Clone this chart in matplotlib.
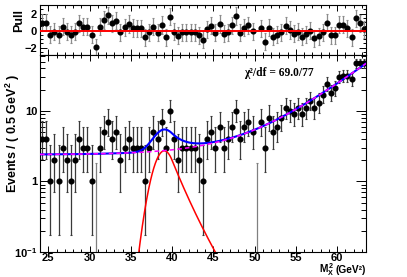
import math
import numpy as np
import matplotlib
matplotlib.use("Agg")
import matplotlib.pyplot as plt
from matplotlib.ticker import MultipleLocator, LogLocator, NullFormatter


####### Data #######

x_lo = 24.0
x_hi = 63.5
bin_width = 0.5

# events per 0.5 GeV^2 bin
counts = [4, 4, 1, 2, 1, 3, 2, 1, 2, 4, 3, 3, 1, 0, 3, 5, 7, 4, 5, 2,
          3, 4, 3, 3, 3, 1, 3, 5, 4, 7, 3, 10, 4, 2, 3, 3, 3, 3, 2,
          1, 4, 5, 3, 6, 3, 4, 6, 10, 4, 6, 7, 5, 0, 7, 3, 8, 5, 6,
          8, 11, 10, 9, 11, 9, 11, 14, 11, 13, 17, 24, 18, 21, 30, 31, 31, 28, 47, 47, 47]

# pull per bin (nan = outside the pull frame)
pulls = [0.93, 0.93, -0.47, -0.12, -0.47, 0.47, -0.12, -0.47, -0.12, 0.86,
         0.47, 0.47, -0.5, -1.93, 0.47, 1.24, 1.79, 0.86, 1.16, -0.19,
         0.39, 0.78, 0.31, 0.3, 0.28, -0.77, -0.19, 0.47, -0.27, 0.66,
         -0.77, 1.63, -0.12, -0.62, -0.19, -0.19, -0.19, -0.19, -0.54, -1.08,
         0.16, 0.55, -0.27, 0.78, -0.35, -0.19, 0.63, 1.71, -0.27, 0.35,
         0.63, -0.1, np.nan, 0.28, -1.28, 0.35, -0.7, -0.5, -0.19, 0.55,
         0.08, -0.35, -0.12, -0.7, -0.42, -0.03, -0.89, -0.66, -0.19, 0.93,
         -0.54, -0.54, 0.7, 0.7, 0.28, -0.77, 1.44, 0.86, 0.16]

# fit parameters (signal: crystal ball with right tail, background: const + exp)
sig_peak = 2.72
sig_mean = 39.06
sig_sigma = 1.2
sig_alpha = 0.8
sig_n = 10.0
bkg_const = 2.4
bkg_amp = 8.15
bkg_slope = 0.2
bkg_ref = 55.0

chi2_text = "χ²/df = 69.0/77"

##########################################

plt.rcParams['font.family'] = ['Liberation Sans', 'DejaVu Sans']
plt.rcParams['font.weight'] = 'bold'
plt.rcParams['mathtext.fontset'] = 'custom'
plt.rcParams['mathtext.rm'] = 'Liberation Sans:bold'
plt.rcParams['mathtext.it'] = 'Liberation Sans:bold'
plt.rcParams['mathtext.bf'] = 'Liberation Sans:bold'


## Poisson (Garwood) errors like RooFit
def pois_cdf(n, mu):
    s = 0.0
    term = math.exp(-mu)
    for k in range(n + 1):
        if k > 0:
            term *= mu / k
        s += term
    return s


def poisson_interval(n, alpha=0.158655):
    lo = 0.0
    if n > 0:
        a, b = 0.0, n + 50.0
        for _ in range(80):
            m = 0.5 * (a + b)
            if 1.0 - pois_cdf(n - 1, m) < alpha:
                a = m
            else:
                b = m
        lo = 0.5 * (a + b)
    a, b = 0.0, n + 60.0
    for _ in range(80):
        m = 0.5 * (a + b)
        if pois_cdf(n, m) > alpha:
            a = m
        else:
            b = m
    hi = 0.5 * (a + b)
    return lo, hi


def signal(x):
    t = (x - sig_mean) / sig_sigma
    core = np.exp(-0.5 * t ** 2)
    A = (sig_n / sig_alpha) ** sig_n * np.exp(-0.5 * sig_alpha ** 2)
    B = sig_n / sig_alpha - sig_alpha
    tail = A / np.power(np.clip(B + t, 1e-6, None), sig_n)
    return sig_peak * np.where(t <= sig_alpha, core, tail)


def background(x):
    return bkg_const + bkg_amp * np.exp(bkg_slope * (x - bkg_ref))


counts = np.array(counts)
pulls = np.array(pulls, dtype=float)
centers = x_lo + bin_width * (np.arange(len(counts)) + 0.5)

err_lo = []
err_hi = []
for n in counts:
    lo, hi = poisson_interval(int(n))
    err_lo.append(n - lo)
    err_hi.append(hi - n)
err_lo = np.array(err_lo)
err_hi = np.array(err_hi)

xs = np.linspace(x_lo, x_hi, 600)

## Figure
W, H = 407, 277
fig = plt.figure(figsize=(W / 100, H / 100), dpi=100)
ax_p = fig.add_axes([40 / W, 1 - 55 / H, 326 / W, 50 / H])
ax = fig.add_axes([40 / W, 1 - 252 / H, 326 / W, 197 / H])

tick_kw = dict(direction='in', top=True, right=True, width=0.7, labelsize=8.0, colors='black')

## Main panel
nz = counts > 0
ax.errorbar(centers[nz], counts[nz], yerr=[err_lo[nz], err_hi[nz]], fmt='o', color='black',
            ms=3.4, ecolor='#3a3a3a', elinewidth=0.9, capsize=1.0, capthick=0.8, zorder=3)
z = ~nz
ax.errorbar(centers[z], np.full(z.sum(), 1e-4), yerr=[np.zeros(z.sum()), err_hi[z]], fmt='none',
            ecolor='#808080', elinewidth=0.9, capsize=1.0, capthick=0.8, zorder=3)

ax.plot(xs, background(xs) + signal(xs), color='#0000ff', lw=1.5, zorder=4)
ax.plot(xs, background(xs), color='#ff00ff', lw=1.1, ls=(0, (3, 2)), zorder=5)
ax.plot(xs, signal(xs), color='#ff0000', lw=1.1, zorder=4)

ax.set_yscale('log')
ax.set_xlim(x_lo, x_hi)
ax.set_ylim(0.1, 62)
ax.set_yticks([0.1, 1, 10], labels=['$10^{-1}$', '1', '10'])
ax.yaxis.set_minor_locator(LogLocator(base=10, subs=np.arange(2, 10)))
ax.yaxis.set_minor_formatter(NullFormatter())
ax.xaxis.set_major_locator(MultipleLocator(5))
ax.xaxis.set_minor_locator(MultipleLocator(1))
ax.tick_params(axis='both', which='both', **tick_kw)
ax.tick_params(axis='x', which='major', length=4.2, pad=0.6)
ax.tick_params(axis='x', which='minor', length=2.2)
ax.tick_params(axis='y', which='major', length=7, pad=2)
ax.tick_params(axis='y', which='minor', length=3.6)
for lab in ax.get_xticklabels() + ax.get_yticklabels():
    lab.set_fontweight('bold')

ax.text(0.625, 0.91, chi2_text, transform=ax.transAxes, fontsize=8.3,
        family=['Liberation Serif', 'DejaVu Serif'], fontweight='bold', ha='left', va='center')

ax.set_ylabel('Events / ( 0.5 GeV$^2$ )', fontsize=9, fontweight='bold')
ax.yaxis.set_label_coords(-0.055, 0.6)

## x title: "(GeV²)" as plain text, M²_X as mathtext just left of it
unit_txt = fig.text(366 / W, 1 - 273 / H, '(GeV²)', fontsize=7.3, ha='right', va='baseline')
rend = fig.canvas.get_renderer()
bb = unit_txt.get_window_extent(renderer=rend)
fig.text((bb.x0 - 1.5) / W, 1 - 273 / H, '$M_X^2$', fontsize=7.3, ha='right', va='baseline')

## Pull panel
ok = ~np.isnan(pulls)
ax_p.errorbar(centers[ok], pulls[ok], yerr=np.ones(ok.sum()), fmt='o', color='black', ms=3.4,
              ecolor='#8c8c8c', elinewidth=0.9, capsize=1.0, capthick=0.8, zorder=3)
ax_p.axhline(0, color='#ff0000', lw=1.4, zorder=4)
ax_p.set_xlim(x_lo, x_hi)
ax_p.set_ylim(-2.85, 3.0)
ax_p.set_yticks([-2, 0, 2], labels=['\u22122', '0', '2'])
ax_p.yaxis.set_minor_locator(MultipleLocator(0.5))
ax_p.xaxis.set_major_locator(MultipleLocator(5))
ax_p.xaxis.set_minor_locator(MultipleLocator(1))
ax_p.tick_params(axis='both', which='both', **tick_kw)
ax_p.tick_params(axis='x', which='both', labelbottom=False)
ax_p.tick_params(axis='x', which='major', length=4.2)
ax_p.tick_params(axis='x', which='minor', length=2.2)
ax_p.tick_params(axis='y', which='major', length=5, pad=2)
ax_p.tick_params(axis='y', which='minor', length=2.5)
for lab in ax_p.get_yticklabels():
    lab.set_fontweight('bold')
ax_p.set_ylabel('Pull', fontsize=9, fontweight='bold')
ax_p.yaxis.set_label_coords(-0.046, 0.7)

for a in (ax, ax_p):
    for sp in a.spines.values():
        sp.set_linewidth(0.8)

fig.savefig('out.png', dpi=100)
